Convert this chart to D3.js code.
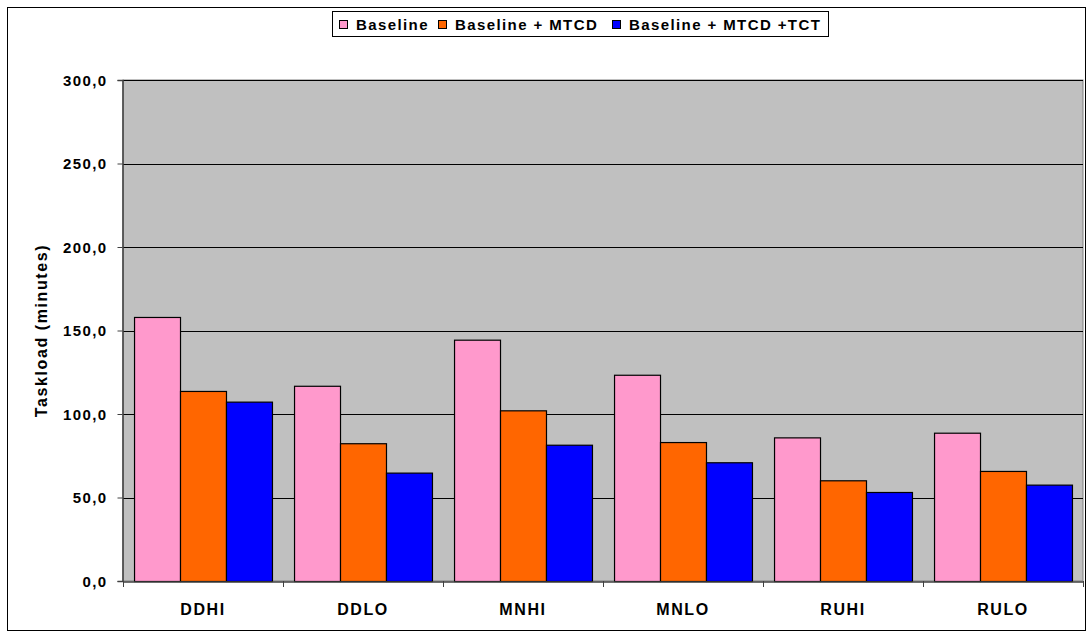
<!DOCTYPE html>
<html>
<head>
<meta charset="utf-8">
<script src="https://cdn.jsdelivr.net/npm/d3@7"></script>
<style>
  html, body { margin: 0; padding: 0; background: #fff; }
  svg { display: block; font-family: "Liberation Sans", Arial, sans-serif; }
  .lbl { font-family: "Liberation Sans", Arial, sans-serif; font-size: 15px; font-weight: bold; letter-spacing: 1.4px; fill: #000; }
  .cat { font-size: 16px; letter-spacing: 1.6px; }
  .ttl { font-size: 16px; letter-spacing: 1.6px; }
</style>
</head>
<body>
<svg id="chart" width="1092" height="637"></svg>
<script>
// Taskload per scenario, in minutes
const categories = ["DDHI", "DDLO", "MNHI", "MNLO", "RUHI", "RULO"];
const seriesNames = ["Baseline", "Baseline + MTCD", "Baseline + MTCD +TCT"];
const baseline = [158.1, 116.9, 144.5, 123.5, 86.0, 88.8];
const baselineMtcd = [113.8, 82.5, 102.2, 83.2, 60.3, 65.9];
const baselineMtcdTct = [107.4, 64.9, 81.6, 71.1, 53.3, 57.7];
const yTicks = [0, 50, 100, 150, 200, 250, 300];
const seriesColors = ["#FF99CC", "#FF6600", "#0000FF"];

const seriesValues = [baseline, baselineMtcd, baselineMtcdTct];

const svg = d3.select("#chart");
const plot = { left: 123, right: 1083, top: 80, bottom: 581 };

// outer chart frame
svg.append("rect")
  .attr("x", 7.5).attr("y", 7.5)
  .attr("width", 1078).attr("height", 623)
  .attr("fill", "#fff").attr("stroke", "#000").attr("stroke-width", 1);

const x = d3.scaleBand().domain(categories).range([plot.left, plot.right]).paddingInner(0).paddingOuter(0);
const y = d3.scaleLinear().domain([0, 300]).range([plot.bottom, plot.top]);
const inner = d3.scaleBand().domain(d3.range(seriesNames.length))
  .range([0, x.bandwidth()]).paddingInner(0).paddingOuter(0.24);

// plot background
svg.append("rect")
  .attr("x", plot.left).attr("y", plot.top)
  .attr("width", plot.right - plot.left).attr("height", plot.bottom - plot.top)
  .attr("fill", "#C0C0C0").attr("stroke", "#808080").attr("stroke-width", 1);

// horizontal gridlines
svg.append("g").selectAll("line").data(yTicks.filter(t => t > 0)).join("line")
  .attr("x1", plot.left).attr("x2", plot.right)
  .attr("y1", d => Math.round(y(d)) + 0.5).attr("y2", d => Math.round(y(d)) + 0.5)
  .attr("stroke", "#000").attr("stroke-width", 1);

// bars
const groups = svg.append("g").selectAll("g").data(categories).join("g")
  .attr("transform", d => `translate(${x(d)},0)`);
groups.selectAll("rect")
  .data((c, ci) => seriesValues.map((vals, si) => ({ si, v: vals[ci] })))
  .join("rect")
  .attr("x", d => inner(d.si) + 0.5)
  .attr("y", d => y(d.v) + 0.5)
  .attr("width", inner.bandwidth())
  .attr("height", d => y(0) - y(d.v))
  .attr("fill", d => seriesColors[d.si])
  .attr("stroke", "#000").attr("stroke-width", 1.2);

// y axis
const yAxis = d3.axisLeft(y).tickValues(yTicks)
  .tickFormat(d => d3.format(".1f")(d).replace(".", ","))
  .tickSize(5).tickPadding(10);
const gy = svg.append("g").attr("transform", `translate(${plot.left - 0.5},0)`).call(yAxis);
gy.select(".domain").attr("stroke", "#404040").attr("stroke-width", 1.5);
gy.selectAll(".tick line").attr("stroke", "#404040");
gy.selectAll(".tick text").attr("class", "lbl").attr("dy", "0.36em");

// x axis with ticks at category boundaries
const xAxis = d3.axisBottom(x).tickSize(0).tickPadding(0);
const gx = svg.append("g").attr("transform", `translate(0,${plot.bottom + 0.5})`).call(xAxis);
gx.select(".domain").attr("stroke", "#404040").attr("stroke-width", 1.5);
gx.selectAll(".tick text").attr("class", "lbl cat").attr("y", 33).attr("dy", null);
const boundaries = categories.map(c => x(c)).concat([plot.right]);
svg.append("g").selectAll("line").data(boundaries).join("line")
  .attr("x1", d => Math.round(d) + 0.5).attr("x2", d => Math.round(d) + 0.5)
  .attr("y1", plot.bottom).attr("y2", plot.bottom + 6)
  .attr("stroke", "#404040");

// y axis title
svg.append("text")
  .attr("class", "lbl ttl")
  .attr("transform", `translate(47,${(plot.top + plot.bottom) / 2}) rotate(-90)`)
  .attr("text-anchor", "middle")
  .text("Taskload (minutes)");

// legend
const legend = svg.append("g");
legend.append("rect")
  .attr("x", 332.5).attr("y", 11.5).attr("width", 496).attr("height", 25)
  .attr("fill", "#fff").attr("stroke", "#000");
const legendX = [339, 438, 612];
seriesNames.forEach((name, i) => {
  legend.append("rect")
    .attr("x", legendX[i] + 0.5).attr("y", 20.5).attr("width", 8).attr("height", 8)
    .attr("fill", seriesColors[i]).attr("stroke", "#000");
  legend.append("text")
    .attr("class", "lbl")
    .attr("x", legendX[i] + 17).attr("y", 30)
    .text(name);
});
</script>
</body>
</html>
